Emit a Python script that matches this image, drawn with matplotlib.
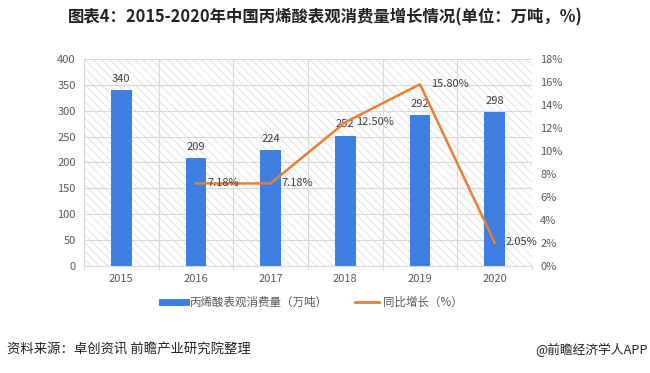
import matplotlib
matplotlib.use('Agg')
import matplotlib.pyplot as plt
import matplotlib.patches as patches
from matplotlib.lines import Line2D
import numpy as np

plt.rcParams['font.family'] = ['Noto Sans CJK SC', 'DejaVu Sans']
plt.rcParams['hatch.linewidth'] = 0.6

# data
years = ['2015', '2016', '2017', '2018', '2019', '2020']
consumption = [340, 209, 224, 252, 292, 298]
growth_years = ['2016', '2017', '2018', '2019', '2020']
growth = [7.18, 7.18, 12.50, 15.80, 2.05]

title = '图表4：2015-2020年中国丙烯酸表观消费量增长情况(单位：万吨，%)'
source = '资料来源：卓创资讯 前瞻产业研究院整理'
brand = '@前瞻经济学人APP'

blue = '#3D7EE0'
orange = '#ED7D31'
grey = '#595959'

fig = plt.figure(figsize=(6.5, 3.73), dpi=100)
ax = fig.add_axes([0.1292, 0.2869, 0.6892, 0.555])

x = np.arange(len(years))
ax.set_xlim(-0.5, len(years) - 0.5)
ax.set_ylim(0, 400)

# hatched background
bg = patches.Rectangle((0, 0), 1, 1, transform=ax.transAxes, facecolor='none',
                       edgecolor='#dedede', hatch='\\\\\\\\', linewidth=0, zorder=0)
ax.add_patch(bg)

ax.set_yticks(np.arange(0, 401, 50))
ax.set_xticks(x)
ax.set_xticks(np.arange(-0.5, len(years), 1), minor=True)
ax.set_xticklabels(years)
ax.grid(which='major', axis='y', color='#d9d9d9', linewidth=0.8, zorder=1)
ax.grid(which='minor', axis='x', color='#d9d9d9', linewidth=0.8, zorder=1)
ax.set_axisbelow(True)

for s in ['top', 'right', 'left']:
    ax.spines[s].set_visible(False)
ax.spines['bottom'].set_color('#d9d9d9')
ax.tick_params(axis='x', which='major', length=0, labelsize=8, colors=grey, pad=6)
ax.tick_params(axis='x', which='minor', length=3, color='#d9d9d9')
ax.tick_params(axis='y', length=0, labelsize=8, colors=grey, pad=6)

ax.bar(x, consumption, width=0.28, color=blue, zorder=2)
for xi, v in zip(x, consumption):
    ax.text(xi, v + 12, str(v), ha='center', va='bottom', fontsize=8, color='#404040', zorder=4)

ax2 = ax.twinx()
ax2.set_ylim(0, 18)
ax2.set_yticks(np.arange(0, 19, 2))
ax2.set_yticklabels([f'{t}%' for t in range(0, 19, 2)])
for s in ax2.spines.values():
    s.set_visible(False)
ax2.tick_params(axis='y', length=0, labelsize=8, colors=grey, pad=6)

gx = [years.index(y) for y in growth_years]
ax2.plot(gx, growth, color=orange, linewidth=1.8, zorder=3)
for xi, v in zip(gx, growth):
    ax2.text(xi + 0.15, v, f'{v:.2f}%', ha='left', va='center', fontsize=8, color='#404040')

fig.text(0.5, 0.952, title, ha='center', va='center', fontsize=11.8, fontweight='bold', color='#222222')

handles = [Line2D([0], [0], color=blue, linewidth=5),
           Line2D([0], [0], color=orange, linewidth=2)]
fig.legend(handles, ['丙烯酸表观消费量（万吨）', '同比增长（%）'], loc='center',
           bbox_to_anchor=(0.48, 0.19), ncol=2, frameon=False, fontsize=8.3,
           labelcolor=grey, handlelength=2.1, columnspacing=2.4, handletextpad=0.3)

fig.text(0.011, 0.062, source, ha='left', va='center', fontsize=9.6, color='#222222')
fig.text(0.997, 0.062, brand, ha='right', va='center', fontsize=9.2, color='#222222')

fig.savefig('out.png', dpi=100)
